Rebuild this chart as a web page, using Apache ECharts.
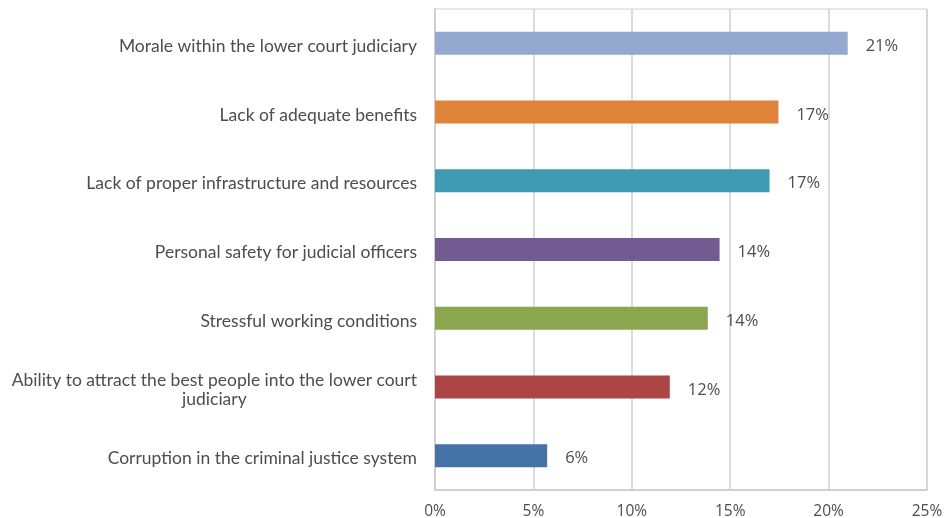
<!DOCTYPE html>
<html>
<head>
<meta charset="utf-8">
<script src="https://cdn.jsdelivr.net/npm/echarts@6/dist/echarts.min.js"></script>
<style>
  html, body { margin: 0; padding: 0; background: #fff; }
  #chart { width: 952px; height: 518px; }
</style>
</head>
<body>
<div id="chart"></div>
<script>
// Concerns affecting the lower court judiciary, top to bottom
const categories = [
  'Morale within the lower court judiciary',
  'Lack of adequate benefits',
  'Lack of proper infrastructure and resources',
  'Personal safety for judicial officers',
  'Stressful working conditions',
  'Ability to attract the best people into the lower court judiciary',
  'Corruption in the criminal justice system'
];
// Share of respondents, percent
const shares = [20.97, 17.45, 17.0, 14.46, 13.86, 11.93, 5.7];
const barColors = ['#94a9cf', '#de843b', '#3f9bb2', '#735b91', '#8aa64e', '#ac4644', '#4573a7'];
const xTicks = [0, 5, 10, 15, 20, 25];

const chart = echarts.init(document.getElementById('chart'));
const textColor = '#4d4d4d';
const gridColor = '#d0d0d0';
const catFont = 'Lato, sans-serif';
const catSize = 17.5;

chart.setOption({
  animation: false,
  grid: {
    left: 435, right: 25, top: 9, bottom: 28,
    outerBoundsMode: 'none',
    containLabel: false,
    show: true, borderColor: gridColor, borderWidth: 1
  },
  xAxis: {
    type: 'value',
    min: xTicks[0],
    max: xTicks[xTicks.length - 1],
    interval: xTicks[1] - xTicks[0],
    axisLine: { show: true, lineStyle: { color: gridColor, width: 2 } },
    axisTick: { show: false },
    splitLine: { show: true, lineStyle: { color: gridColor, width: 1.5 } },
    axisLabel: {
      color: textColor, fontSize: 15.5, margin: 14,
      fontFamily: '"Open Sans", sans-serif',
      formatter: v => v + '%'
    }
  },
  yAxis: {
    type: 'category',
    inverse: true,
    data: categories,
    axisLine: { show: true, lineStyle: { color: gridColor, width: 2 } },
    axisTick: { show: false },
    axisLabel: {
      color: textColor, fontSize: catSize, margin: 18, align: 'right',
      fontFamily: catFont, lineHeight: 19,
      padding: [6, 0, 0, 0],
      formatter: function (v) {
        if (v.length > 50) {
          const cut = v.lastIndexOf(' ', 55);
          return '{c|' + v.slice(0, cut) + '}\n{c|' + v.slice(cut + 1) + '}';
        }
        return v;
      },
      rich: {
        c: { align: 'center', color: textColor, fontSize: catSize, fontFamily: catFont, lineHeight: 19.5 }
      }
    }
  },
  series: [{
    type: 'bar',
    barWidth: 23,
    data: shares.map((v, i) => ({ value: v, itemStyle: { color: barColors[i] } })),
    label: {
      show: true, position: 'right', distance: 18,
      color: textColor, fontSize: 16.5,
      offset: [0, 3],
      fontFamily: '"Open Sans", sans-serif',
      formatter: p => Math.round(p.value) + '%'
    }
  }]
});
</script>
</body>
</html>
